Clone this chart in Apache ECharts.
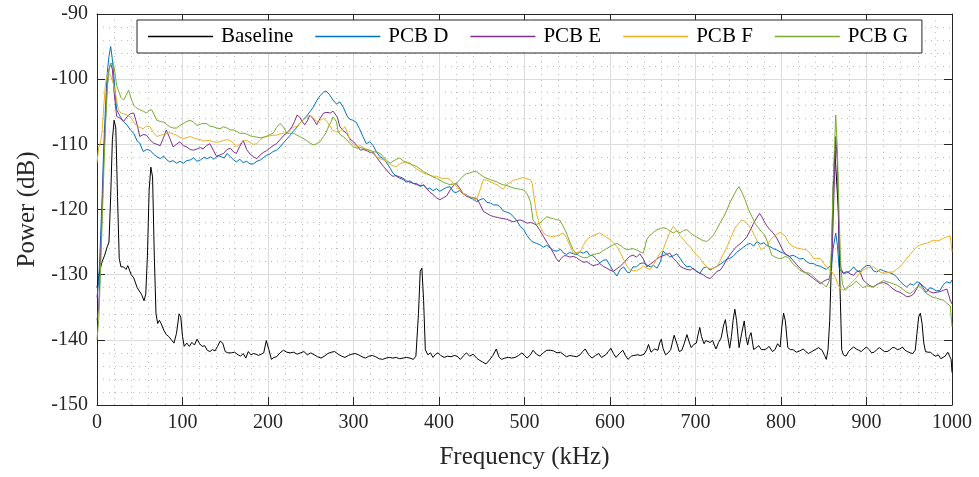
<!DOCTYPE html>
<html>
<head>
<meta charset="utf-8">
<script src="https://cdn.jsdelivr.net/npm/echarts@6/dist/echarts.min.js"></script>
<style>
html,body{margin:0;padding:0;background:#fff;}
#chart{width:979px;height:477px;}
</style>
</head>
<body>
<div id="chart"></div>
<script>
// ---- data: [frequency kHz, power dB] ----
const seriesNames = ['Baseline', 'PCB D', 'PCB E', 'PCB F', 'PCB G'];
const xTicks = [0,100,200,300,400,500,600,700,800,900,1000];
const yTicks = [-150,-140,-130,-120,-110,-100,-90];

const baseline = [[0,-132],[3,-129.5],[6,-128],[9,-127],[12,-125.7],[14,-125],[16,-118],[18,-109.3],[20,-106.3],[22,-107.5],[24,-118],[26,-127.5],[28,-128.8],[31,-128.8],[34,-129.2],[36,-128.6],[38,-129.3],[40,-130],[43,-130.5],[47,-132],[52,-133],[55,-134],[57,-133],[59,-127],[61,-117],[63,-113.5],[65,-115],[67,-127],[69,-136],[71,-137.5],[73,-137],[75,-137.5],[78,-138.5],[81,-139.2],[84,-139.5],[87,-140],[90,-140.5],[93,-139],[96,-136],[98,-136.5],[100,-139.5],[102,-141],[105,-140.5],[108,-141],[111,-140.4],[114,-140.8],[117,-139.9],[120,-140.6],[123,-141],[126,-140.9],[129,-141.6],[132,-141.8],[135,-141.5],[138,-141.7],[141,-141],[144,-140.2],[147,-140.5],[150,-141.8],[153,-142],[157,-142],[161,-141.9],[165,-142.3],[168,-142.5],[171,-142.1],[174,-142.8],[177,-141.8],[180,-142.3],[183,-142.1],[186,-142.2],[189,-142.4],[192,-142.2],[195,-142],[198,-140.1],[201,-141.5],[204,-143],[207,-142.7],[210,-142.6],[214,-142],[218,-141.6],[222,-141.9],[226,-142],[230,-141.9],[234,-142.2],[238,-142],[242,-141.8],[246,-142.3],[250,-142],[254,-142.3],[258,-142.6],[262,-142.8],[266,-142.5],[270,-142.1],[274,-141.9],[278,-141.8],[282,-142.2],[286,-142.5],[290,-142.7],[294,-142.4],[298,-142.2],[302,-142.1],[306,-142.3],[310,-142.6],[314,-142.8],[318,-142.5],[322,-142.4],[326,-142.6],[330,-142.9],[334,-143],[338,-142.8],[342,-142.7],[346,-142.8],[350,-142.7],[354,-142.9],[358,-142.8],[362,-142.7],[366,-142.8],[370,-143],[373,-142.5],[376,-136],[378,-129.5],[380,-129],[382,-134],[384,-141.5],[387,-142.3],[390,-142],[393,-142.7],[396,-142.2],[399,-142],[402,-142.4],[406,-142.7],[410,-142.5],[414,-142.6],[418,-142.4],[421,-142.5],[425,-143],[429,-142.4],[432,-142],[436,-142.5],[440,-142.2],[444,-142.8],[447,-143.1],[451,-143.4],[455,-143.7],[459,-143.1],[463,-142.4],[467,-141.4],[470,-142.6],[473,-143],[477,-142.8],[481,-142.7],[485,-142.8],[489,-142.7],[493,-142.4],[497,-142],[500,-142.4],[503,-142.8],[507,-142.3],[510,-141.6],[514,-142.2],[518,-142.5],[522,-142],[526,-141.6],[530,-141.6],[534,-141.7],[538,-142],[542,-141.9],[546,-142.3],[549,-142.6],[553,-142.4],[557,-142.5],[561,-142.6],[565,-142.3],[568,-141.8],[571,-141.4],[575,-142.3],[579,-142.8],[583,-142.4],[587,-142.1],[590,-142.7],[592,-142.8],[595,-142.3],[598,-141.8],[601,-141.3],[604,-142.1],[607,-142.7],[611,-142.1],[615,-141.6],[618,-142.4],[621,-143],[625,-142.5],[628,-142.4],[632,-142.3],[636,-142.4],[640,-142.2],[643,-141.5],[645,-140.7],[648,-141.9],[650,-142.1],[652,-141.4],[654,-141.5],[656,-141.6],[658,-140.5],[660,-139.9],[662,-141.3],[665,-142.3],[668,-142],[671,-141.5],[673,-140.4],[675,-139.3],[678,-140.5],[681,-141.8],[684,-141.6],[687,-140.5],[690,-139.2],[693,-140.5],[695,-141.2],[698,-140.7],[701,-140.5],[703,-139.2],[705,-138.1],[707,-139.5],[710,-140.6],[712,-140.1],[714,-139.9],[717,-140.4],[720,-140.1],[722,-140.8],[724,-141.4],[727,-140.4],[730,-139.7],[733,-137.7],[735,-136.9],[737,-139],[740,-141.3],[742,-139.5],[744,-137],[746,-135.3],[748,-137],[751,-141.2],[754,-139],[757,-137.1],[759,-139.5],[761,-140.8],[763,-139.5],[765,-138.9],[768,-141.5],[771,-141.2],[774,-140.9],[777,-141.5],[780,-141.5],[783,-141.4],[786,-141],[788,-141.2],[790,-141.8],[793,-141.5],[796,-140.6],[799,-141.1],[801,-138],[803,-135.9],[805,-137],[808,-141.2],[811,-141.5],[814,-141.5],[818,-141.9],[822,-141.7],[826,-141.4],[829,-141.8],[832,-142.1],[836,-141.8],[840,-141.5],[844,-141.2],[848,-141.6],[851,-142.4],[853,-143],[855,-141.5],[857,-137],[859,-128],[861,-117],[863,-111],[865,-111],[867,-120],[869,-132],[871,-141.5],[873,-142.3],[876,-142.5],[879,-141.8],[882,-141.4],[885,-141.1],[888,-141.4],[891,-141.6],[894,-141.8],[897,-141.4],[900,-141.1],[903,-141.5],[906,-142],[909,-141.9],[912,-141.5],[915,-141.2],[918,-141.5],[921,-141.8],[924,-141.8],[927,-141.6],[930,-141.2],[933,-141.2],[936,-141.5],[939,-141.4],[942,-141.1],[945,-141.6],[948,-141.8],[951,-142],[954,-142.1],[957,-141.6],[959,-139],[961,-136.5],[963,-135.9],[965,-137.5],[967,-140.5],[969,-141.8],[972,-141.9],[975,-141.9],[978,-142.3],[981,-142.5],[984,-142.3],[987,-142.9],[989,-143.2],[992,-142.5],[995,-141.9],[997,-142],[999,-143],[1000,-145]];

const pcbD = [[0,-133.5],[2,-131],[4,-125],[6,-118],[8,-110],[10,-104],[12,-99],[14,-96.5],[16,-95],[18,-97],[20,-100],[23,-104.7],[27,-105.7],[31,-106.5],[35,-107],[39,-107.8],[43,-108.3],[47,-109.5],[50,-109.8],[54,-111.1],[58,-110.8],[62,-110.9],[66,-111.5],[70,-111.9],[74,-112.2],[78,-111.8],[81,-112.3],[85,-112.7],[89,-112.5],[93,-112.9],[97,-112.6],[101,-112.9],[105,-112.5],[109,-112.4],[113,-112.1],[117,-112.6],[121,-112.4],[125,-112],[129,-112.2],[133,-111.9],[137,-112.3],[141,-111.7],[145,-111.9],[149,-112.1],[152,-111.4],[156,-111.9],[160,-112.4],[163,-112.7],[167,-112.3],[171,-112.8],[175,-112.6],[179,-113],[183,-113],[187,-112.6],[191,-112.4],[195,-112],[198,-111.7],[202,-111.5],[206,-111.1],[210,-110.9],[214,-110.4],[218,-109.8],[222,-109.2],[226,-108.6],[229,-108.1],[233,-107.5],[237,-106.8],[241,-106.2],[245,-105.7],[249,-105],[253,-104.3],[257,-103.3],[261,-102.5],[265,-102],[268,-101.8],[272,-102.4],[276,-103.2],[280,-103.8],[284,-103.5],[288,-104.3],[292,-105.5],[295,-106.1],[299,-106.3],[303,-106.6],[307,-107.6],[311,-108.8],[315,-109.9],[319,-109.6],[323,-110.2],[327,-111.2],[331,-111.9],[335,-112.2],[339,-112.9],[343,-113.7],[346,-114.4],[350,-114.9],[354,-115.2],[358,-115.4],[362,-115.8],[366,-115.6],[370,-116],[374,-116],[378,-116.5],[382,-116.2],[386,-116.9],[389,-116.7],[393,-117.1],[397,-116.8],[401,-117.2],[405,-116.9],[409,-116.6],[413,-116.5],[417,-117.3],[420,-117.4],[424,-117.1],[428,-117.6],[432,-117.7],[436,-118.2],[440,-118.4],[444,-118.8],[448,-118.5],[452,-118.3],[456,-118.9],[460,-119],[464,-119.3],[468,-119.3],[471,-119.5],[475,-120.2],[479,-120.4],[483,-120.6],[487,-121.1],[491,-121.7],[495,-122.6],[499,-123.1],[503,-124],[507,-124.7],[510,-125],[514,-125.2],[518,-125.4],[522,-125.8],[526,-125.5],[530,-125.9],[534,-126.3],[538,-126.4],[542,-126.1],[545,-126.6],[549,-126.9],[553,-126.6],[557,-126.8],[561,-126.9],[565,-126.5],[569,-126.7],[573,-126.4],[576,-127],[580,-127.1],[584,-127.6],[588,-128.2],[592,-127.8],[596,-127.7],[600,-128.6],[604,-129.5],[608,-130.2],[612,-129.2],[616,-128.8],[620,-129.6],[623,-129.7],[627,-128.8],[631,-128.8],[635,-128.3],[639,-128.2],[643,-128.5],[647,-128.8],[651,-128.6],[655,-129],[659,-128],[662,-126.4],[666,-126.8],[670,-127.3],[674,-127.1],[678,-126.8],[682,-127.5],[686,-128.3],[690,-128.8],[694,-128.7],[697,-129.1],[701,-129.4],[705,-129.8],[709,-129],[713,-128.8],[717,-129.3],[721,-129],[725,-128.7],[729,-128.4],[733,-128],[737,-127.6],[740,-127.5],[744,-127.2],[748,-126.6],[752,-126.2],[756,-125.8],[760,-125.4],[764,-125.2],[768,-125.6],[772,-124.9],[776,-125.3],[780,-125.1],[783,-125.5],[787,-125.7],[791,-126],[795,-126.2],[799,-126.5],[803,-126.7],[807,-127],[810,-127.2],[814,-127],[818,-127.3],[822,-127.6],[826,-127.5],[830,-128],[834,-128.3],[838,-128.3],[842,-128.6],[846,-128.7],[850,-129],[853,-129.2],[856,-128.8],[859,-128.6],[861,-126],[864,-123.6],[866,-125.5],[868,-129],[871,-129.6],[874,-129.8],[877,-129.7],[881,-129.4],[885,-128.8],[888,-129.3],[892,-129.6],[896,-129],[900,-128.6],[904,-128.6],[908,-129.4],[912,-129.6],[916,-129.2],[920,-129.4],[924,-129.6],[927,-129.7],[931,-129.9],[935,-130.3],[939,-131],[943,-131.5],[947,-131.9],[951,-131.4],[955,-131.6],[959,-131.1],[962,-131.2],[966,-132],[970,-132.7],[974,-132],[978,-132.2],[982,-132.5],[986,-132.4],[990,-131.5],[994,-131.1],[998,-131.3],[1000,-130.8]];

const pcbE = [[0,-137],[2,-135],[4,-128],[6,-120],[8,-112],[10,-106],[12,-101],[14,-98.5],[16,-97.6],[18,-98.5],[20,-102],[23,-105.7],[27,-106],[31,-106.5],[35,-105.8],[39,-105.3],[43,-105.2],[47,-107],[50,-108.8],[54,-108.5],[58,-108.6],[62,-109.3],[66,-109.8],[70,-110],[74,-110.2],[78,-108.9],[81,-107.8],[85,-109],[89,-110.4],[93,-110],[97,-109.6],[101,-110.2],[105,-110.4],[109,-110.8],[113,-110.9],[117,-110.7],[121,-110.5],[124,-110.7],[128,-110.2],[132,-109.9],[136,-110.9],[140,-111.9],[144,-111.6],[148,-111.4],[152,-110.8],[156,-110.6],[160,-111.2],[163,-111.4],[167,-110.3],[171,-109.4],[175,-110.8],[179,-111.5],[183,-111.9],[187,-112.2],[191,-111.6],[195,-111.2],[198,-111],[202,-110.6],[206,-110.2],[210,-109.9],[214,-109.3],[218,-108.7],[220,-108.5],[224,-108],[228,-107.3],[231,-106.5],[234,-105.5],[237,-105.8],[240,-106.5],[243,-107],[246,-106.4],[249,-105.5],[253,-106.1],[257,-107],[261,-106],[265,-105.2],[269,-105.1],[273,-105.2],[276,-104.9],[278,-104.7],[281,-105.8],[284,-107.3],[288,-107.9],[292,-108.3],[296,-109.2],[300,-109.6],[304,-110.2],[308,-110.9],[312,-110.8],[316,-111],[320,-111.3],[323,-111.2],[327,-112],[331,-112.7],[335,-113.4],[339,-114],[343,-114.6],[346,-114.9],[350,-114.8],[354,-115],[358,-115.2],[362,-115.6],[366,-115.8],[370,-116],[374,-116.2],[378,-116.3],[382,-116.3],[386,-116.8],[389,-117.3],[393,-117.7],[397,-118.2],[401,-118.5],[405,-118.2],[409,-117.9],[413,-117],[417,-116.3],[420,-116],[424,-116.7],[428,-117.5],[432,-118],[436,-118.1],[440,-118.2],[444,-118.3],[448,-119.2],[452,-120.3],[456,-120.6],[460,-120.9],[464,-121.1],[468,-121.2],[471,-121.3],[475,-121.4],[479,-121.5],[483,-121.7],[487,-121.9],[491,-121.7],[495,-121.6],[499,-121.8],[503,-122.1],[507,-122],[510,-122.1],[514,-122.4],[518,-123.2],[522,-124.1],[526,-125],[530,-125.8],[534,-126.7],[537,-127.5],[540,-128],[543,-127.5],[546,-127.1],[549,-127.1],[553,-127.3],[557,-127.2],[561,-127.4],[565,-127.8],[569,-128.1],[573,-128],[577,-128.4],[580,-128.6],[584,-128.5],[588,-128.3],[592,-128.7],[596,-129],[600,-129.3],[604,-129.5],[608,-129.1],[612,-128.7],[616,-128.2],[620,-127.6],[623,-127.2],[627,-127],[631,-127.3],[635,-126.8],[639,-127.6],[643,-128.8],[647,-128.4],[651,-128],[655,-127.6],[658,-127.3],[662,-127.1],[666,-126.9],[670,-126.7],[674,-127.5],[678,-128],[682,-128.7],[686,-129],[690,-129.2],[694,-129.3],[697,-129],[701,-129.5],[705,-129.8],[709,-130],[713,-130.4],[717,-130.6],[721,-130.1],[725,-129.5],[729,-129.3],[733,-128.5],[737,-127.6],[740,-127],[744,-126.3],[748,-125.7],[752,-125.3],[756,-124.8],[760,-124.2],[764,-123.2],[768,-122.1],[772,-121.2],[775,-120.6],[778,-121.2],[781,-122],[784,-122.6],[787,-123.1],[791,-123.6],[795,-124.4],[799,-125.4],[803,-126.5],[806,-126.9],[810,-127.2],[814,-127.8],[818,-128.4],[822,-129],[826,-129.5],[830,-129.8],[834,-130.2],[838,-130.6],[842,-131],[846,-131.4],[850,-131],[853,-130.8],[856,-130.7],[859,-129.5],[861,-122],[864,-108.8],[866,-113],[868,-126],[870,-129],[873,-129.8],[877,-129.5],[881,-129.9],[885,-130.1],[888,-129.6],[892,-129.4],[896,-130.8],[900,-131.3],[904,-131.7],[908,-131.9],[912,-131.5],[916,-131.3],[920,-131.2],[924,-131.4],[927,-131.7],[931,-132.2],[935,-132.5],[939,-132.7],[943,-133],[947,-133.4],[951,-133.3],[955,-133],[959,-132.1],[962,-131.3],[966,-131.7],[970,-132.2],[974,-132.6],[978,-132.8],[982,-132.7],[986,-132.6],[990,-132.4],[994,-132.2],[998,-133.9],[1000,-134.5]];

const pcbF = [[0,-112.8],[2,-110.5],[4,-109.8],[6,-108],[8,-104],[10,-100.5],[13,-99],[16,-99.5],[19,-100.6],[22,-102.5],[25,-104.7],[28,-105.2],[31,-105.3],[35,-105.5],[39,-105.8],[43,-106.6],[46,-107.1],[50,-107.4],[54,-107.6],[58,-107.2],[62,-107.3],[66,-108.2],[70,-108.8],[74,-108.6],[78,-108.5],[82,-108.3],[85,-108.2],[89,-108.4],[93,-108.6],[97,-108.9],[101,-109.1],[105,-109],[109,-108.8],[113,-109],[117,-109.2],[121,-109.3],[125,-109.5],[128,-109.4],[132,-109.4],[136,-109.6],[140,-109.7],[144,-109.6],[148,-109.4],[152,-109.3],[156,-109.4],[160,-109.9],[163,-110.4],[167,-110],[171,-109.4],[175,-109.4],[179,-109.7],[183,-110],[187,-109.9],[191,-109.3],[195,-108.9],[198,-108.8],[202,-108.7],[206,-108.6],[210,-108.6],[214,-108.4],[218,-108.3],[221,-108.2],[225,-108],[228,-107.5],[231,-107.3],[234,-107.3],[237,-106.8],[241,-106.3],[245,-105.9],[249,-105.5],[253,-105.9],[257,-106.5],[261,-106.3],[265,-106],[269,-106.5],[273,-107.3],[276,-107.9],[279,-108],[282,-108.2],[286,-107.8],[290,-107.3],[293,-108.2],[296,-109.5],[300,-110],[304,-110.4],[308,-110.2],[312,-110.6],[316,-110.8],[319,-110.9],[323,-111.5],[327,-111.9],[331,-112.2],[335,-112.4],[339,-112.7],[343,-113.1],[346,-113.3],[350,-113.4],[354,-113],[358,-112.8],[362,-112.7],[366,-112.9],[370,-113.4],[374,-113.8],[378,-114.1],[382,-114.4],[386,-114.6],[389,-114.7],[393,-114.9],[397,-114.9],[401,-115.1],[405,-115.3],[409,-115.2],[413,-115.4],[417,-116],[420,-116.4],[424,-117],[428,-117.5],[432,-117.8],[436,-118],[440,-118.3],[444,-118.5],[448,-117],[452,-115.4],[456,-115.5],[460,-115.7],[464,-116],[468,-116.2],[471,-116.5],[475,-116.9],[479,-116.2],[483,-115.9],[487,-115.5],[491,-115.4],[495,-115.2],[499,-115.1],[503,-115.3],[507,-115.4],[509,-116],[511,-118],[514,-120.6],[518,-122.5],[522,-123.6],[526,-124],[530,-124.1],[534,-124.2],[538,-124],[541,-123.9],[545,-123.6],[549,-124.3],[553,-125.5],[557,-126.7],[561,-126.6],[565,-126.5],[569,-125.4],[573,-124.6],[577,-124.2],[580,-124],[584,-123.8],[588,-123.6],[592,-123.9],[596,-124.3],[600,-124.6],[604,-125.1],[608,-125.7],[612,-126.6],[616,-127.7],[620,-128.7],[623,-129.2],[627,-129.4],[631,-129.4],[635,-129.1],[639,-128.7],[643,-129],[647,-129.2],[651,-128.4],[655,-127.5],[658,-126.8],[662,-126.2],[666,-124.8],[670,-123.5],[674,-122.6],[678,-123.2],[682,-124],[686,-124.6],[690,-125.3],[694,-125.7],[697,-126.4],[701,-126.9],[705,-127.5],[709,-128.2],[713,-128.8],[717,-129.1],[721,-129],[725,-128.8],[729,-127.8],[733,-126.7],[737,-125.7],[740,-124.7],[744,-123.5],[746,-122.9],[750,-122.2],[754,-121.6],[758,-121.8],[762,-122.4],[766,-123.2],[770,-124.2],[773,-125.2],[777,-126.2],[781,-125.8],[785,-125.2],[788,-124.6],[791,-124.2],[795,-123.8],[799,-123.5],[801,-123.4],[805,-124.1],[809,-125.1],[813,-125.6],[818,-125.9],[822,-126],[826,-126.1],[830,-126.2],[834,-126.7],[838,-127.5],[842,-127.5],[846,-127.5],[850,-128.3],[853,-128.8],[857,-129.3],[861,-129.8],[864,-130.5],[866,-131.3],[869,-132.1],[873,-132.4],[877,-131.9],[881,-131.4],[885,-130.9],[888,-130.5],[892,-129.8],[896,-129.3],[900,-129],[904,-128.9],[908,-128.8],[912,-129.2],[916,-129.6],[920,-129.8],[924,-129.7],[927,-129.6],[931,-129.6],[935,-129.2],[939,-128.8],[943,-128.2],[947,-127.5],[951,-126.9],[955,-126.3],[959,-125.7],[962,-125.5],[966,-125.3],[970,-125.2],[974,-125],[978,-124.7],[982,-124.8],[986,-124.7],[990,-124.4],[994,-124.2],[998,-124.1],[1000,-126.5]];

const pcbG = [[0,-140],[2,-137],[4,-130],[6,-122],[8,-114],[10,-107],[12,-101.5],[14,-98.5],[16,-97.6],[19,-97.5],[21,-99],[23,-101],[25,-101.7],[28,-102.8],[31,-103.2],[34,-102.5],[37,-101.7],[40,-103],[43,-104],[46,-104.4],[50,-104.7],[54,-104.9],[58,-105.2],[61,-104.8],[64,-104.7],[67,-105.5],[70,-106.3],[74,-106.5],[78,-106.6],[81,-106.9],[85,-107.3],[89,-107.5],[93,-107.5],[97,-107.1],[101,-106.8],[105,-106.5],[109,-106.3],[113,-106.6],[117,-107.1],[121,-106.9],[124,-106.8],[128,-106.8],[132,-107.2],[136,-107.3],[140,-107.5],[144,-107.6],[148,-107.3],[152,-107.5],[156,-107.8],[160,-107.8],[163,-108],[167,-108.3],[171,-108.3],[175,-108.4],[179,-108.7],[183,-108.8],[187,-108.9],[191,-109],[195,-108.9],[198,-108.8],[202,-108.5],[206,-108.3],[210,-107.4],[214,-106.8],[218,-107.3],[222,-108.3],[226,-108.3],[230,-108.3],[234,-108.6],[237,-108.8],[241,-109.1],[245,-109.4],[249,-109.8],[253,-110.1],[257,-109.9],[261,-109.6],[265,-108.8],[268,-108.2],[271,-107.2],[274,-106.5],[276,-105.8],[278,-105.5],[280,-106.5],[282,-108],[285,-108.6],[288,-108.8],[292,-109.3],[296,-109.9],[300,-110.4],[304,-110.6],[308,-110.5],[311,-110.6],[315,-110.8],[319,-110.9],[323,-111.1],[327,-111.2],[331,-111.4],[335,-111.9],[339,-112.5],[343,-112.9],[346,-112.6],[350,-112.3],[354,-112.1],[358,-112.5],[362,-112.8],[366,-113],[370,-113.2],[374,-113.4],[378,-113.8],[382,-114.2],[385,-114.4],[389,-114.7],[393,-115],[397,-115.2],[401,-115.5],[405,-115.8],[409,-116],[413,-116.2],[417,-116.1],[420,-116],[424,-115.5],[428,-114.9],[432,-114.5],[436,-114.4],[440,-114.2],[444,-114.2],[448,-114.6],[452,-115],[456,-115.2],[460,-115.4],[464,-115.6],[467,-115.7],[471,-116],[475,-116.2],[479,-116.3],[483,-116.5],[487,-116.7],[491,-116.8],[495,-116.9],[499,-117],[503,-117.6],[507,-118.8],[510,-121.6],[514,-122.3],[518,-122.1],[522,-121.6],[526,-121.1],[530,-121.3],[534,-121.4],[538,-121.6],[541,-121.6],[545,-122.5],[549,-123.6],[553,-125],[557,-126.2],[561,-126.8],[565,-127.2],[569,-127.4],[573,-127.4],[577,-127.1],[580,-126.9],[584,-126.8],[588,-126.7],[592,-126.3],[596,-126],[600,-125.7],[604,-125.4],[608,-125.2],[612,-125.5],[616,-125.9],[620,-126.2],[623,-126.1],[627,-126],[631,-126.2],[635,-126.5],[639,-126.7],[643,-124.6],[647,-123.9],[651,-123.5],[655,-123.1],[659,-122.9],[662,-122.8],[666,-122.9],[670,-123.3],[674,-123.6],[678,-123.3],[682,-123.6],[686,-123.2],[690,-123.1],[694,-123.6],[697,-123.9],[701,-124.2],[705,-124.5],[709,-124.8],[713,-124.9],[717,-124.5],[721,-123.9],[725,-123],[729,-122],[733,-121.1],[737,-120],[740,-119],[744,-118],[748,-117],[751,-116.5],[754,-117.3],[758,-118.5],[762,-120],[766,-121.1],[770,-122.2],[774,-122.9],[777,-123.4],[781,-123.9],[785,-125.3],[789,-127],[793,-127.3],[797,-127.5],[801,-127.5],[805,-127.2],[809,-127.4],[813,-128.2],[818,-128.8],[822,-129.3],[826,-129.6],[830,-129.7],[834,-129.8],[838,-130.3],[842,-130.8],[846,-131.2],[850,-131.5],[853,-131.9],[857,-130.8],[859,-126],[861,-116],[864,-105.5],[866,-111],[868,-121],[870,-129],[872,-131.5],[875,-132.4],[879,-131.9],[883,-131.6],[888,-131],[892,-131.5],[896,-132],[900,-131.7],[904,-131.8],[908,-131.9],[912,-131.6],[916,-131.2],[920,-130.9],[924,-131.1],[927,-131.2],[931,-131.4],[935,-131.6],[939,-131.9],[943,-132.3],[947,-132.7],[951,-132.9],[955,-132.5],[959,-131.9],[962,-131.7],[966,-132.3],[970,-132.9],[974,-133.2],[978,-133.5],[982,-133.6],[986,-133.8],[990,-133.9],[994,-134.4],[998,-134.8],[1000,-138]];

const seriesData = [baseline, pcbD, pcbE, pcbF, pcbG];
const seriesColors = ['#000000', '#0072BD', '#7E2F8E', '#EDB120', '#77AC30'];

const FONT = '"Liberation Serif", "DejaVu Serif", serif';
const AX = '#262626';

const chart = echarts.init(document.getElementById('chart'), null, {renderer: 'canvas'});

function plain(v) { return String(v); }

function baseX(extra) {
  return Object.assign({
    type: 'value', min: xTicks[0], max: xTicks[xTicks.length - 1],
    interval: xTicks[1] - xTicks[0],
    axisLine: {show: true, onZero: false, lineStyle: {color: AX, width: 1}},
    axisTick: {show: true, inside: true, length: 8, lineStyle: {color: AX}},
    minorTick: {show: false, splitNumber: 5},
  }, extra);
}
function baseY(extra) {
  return Object.assign({
    type: 'value', min: yTicks[0], max: yTicks[yTicks.length - 1],
    interval: yTicks[1] - yTicks[0],
    axisLine: {show: true, onZero: false, lineStyle: {color: AX, width: 1}},
    axisTick: {show: true, inside: true, length: 8, lineStyle: {color: AX}},
    minorTick: {show: false, splitNumber: 5},
  }, extra);
}

const option = {
  animation: false,
  backgroundColor: '#ffffff',
  textStyle: {fontFamily: FONT},
  grid: {left: 97, right: 27, top: 14, bottom: 72, containLabel: false},
  legend: {
    left: 137, top: 20,
    data: seriesNames.map(n => ({name: n, icon: 'rect'})),
    orient: 'horizontal',
    backgroundColor: '#ffffff',
    borderColor: AX, borderWidth: 1, borderRadius: 0,
    padding: [6, 14, 6, 11],
    itemWidth: 65, itemHeight: 1.3, itemGap: 22,
    textStyle: {fontFamily: FONT, fontSize: 21, color: '#000', padding: [0, 0, 0, 3], lineHeight: 20},
  },
  xAxis: [
    baseX({
      position: 'bottom',
      name: 'Frequency (kHz)', nameLocation: 'middle', nameGap: 40,
      nameTextStyle: {fontFamily: FONT, fontSize: 25, color: AX},
      axisLabel: {fontFamily: FONT, fontSize: 20, color: AX, margin: 8, formatter: plain},
      splitLine: {show: true, lineStyle: {color: '#dcdcdc', width: 1}},
      minorSplitLine: {show: true, lineStyle: {color: '#bdbdbd', width: 1, type: [1, 5]}},
    }),
    baseX({
      position: 'top',
      axisLabel: {show: false},
      splitLine: {show: false},
    }),
  ],
  yAxis: [
    baseY({
      position: 'left',
      name: 'Power (dB)', nameLocation: 'middle', nameGap: 57,
      nameTextStyle: {fontFamily: FONT, fontSize: 25, color: AX},
      axisLabel: {fontFamily: FONT, fontSize: 20, color: AX, margin: 9, formatter: plain},
      splitLine: {show: true, lineStyle: {color: '#dcdcdc', width: 1}},
      minorSplitLine: {show: true, lineStyle: {color: '#bdbdbd', width: 1, type: [1, 5]}},
    }),
    baseY({
      position: 'right',
      axisLabel: {show: false},
      splitLine: {show: false},
    }),
  ],
  series: seriesNames.map((name, i) => ({
    name: name,
    type: 'line',
    xAxisIndex: 0, yAxisIndex: 0,
    data: seriesData[i],
    symbol: 'none',
    showSymbol: false,
    smooth: false,
    clip: true,
    lineStyle: {color: seriesColors[i], width: 1},
    itemStyle: {color: seriesColors[i]},
    emphasis: {disabled: true},
    z: 2 + i,
  })),
};
chart.setOption(option);
</script>
</body>
</html>
